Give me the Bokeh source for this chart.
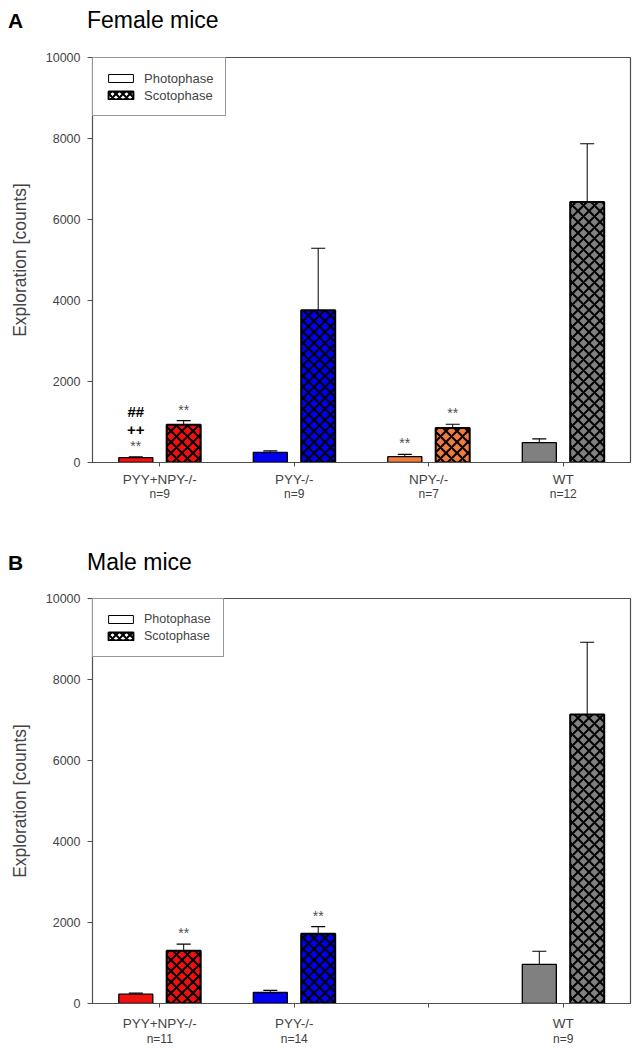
import numpy as np
from bokeh.plotting import figure
from bokeh.models import (ColumnDataSource, Range1d, FixedTicker, Whisker, TeeHead,
                          Legend, LegendItem, LinearAxis, Div)
from bokeh.layouts import column
from bokeh.core.properties import value
from bokeh.embed import file_html
from bokeh.resources import INLINE

FONT = "Liberation Sans"

# ---------------- data ----------------
groups_A = ["PYY+NPY-/-", "PYY-/-", "NPY-/-", "WT"]
n_A = ["n=9", "n=9", "n=7", "n=12"]
colors_A = ["#f01010", "#0000f0", "#f07b3f", "#808080"]
photo_A = [120, 250, 145, 490]
photo_err_A = [20, 35, 55, 95]
scoto_A = [930, 3760, 850, 6430]
scoto_err_A = [105, 1530, 95, 1440]

groups_B = ["PYY+NPY-/-", "PYY-/-", "", "WT"]
n_B = ["n=11", "n=14", "", "n=9"]
colors_B = ["#f01010", "#0000f0", None, "#808080"]
photo_B = [230, 272, np.nan, 965]
photo_err_B = [25, 50, np.nan, 325]
scoto_B = [1305, 1725, np.nan, 7135]
scoto_err_B = [160, 175, np.nan, 1785]

# significance marks: (group index, phase, stack level, text)
marks_A = [(0, "photo", 0, "**"), (0, "photo", 1, "++"), (0, "photo", 2, "##"),
           (0, "scoto", 0, "**"), (2, "photo", 0, "**"), (2, "scoto", 0, "**")]
marks_B = [(0, "scoto", 0, "**"), (1, "scoto", 0, "**")]

y_ticks = [0, 2000, 4000, 6000, 8000, 10000]

OFF = 0.178
BW = 0.253


def title_div(letter, title, height, baseline):
    html = (
        f'<div style="position:relative;width:640px;height:{height}px;">'
        f'<span style="position:absolute;left:8px;top:{baseline - 0.8465 * 21:.1f}px;'
        f'font-family:\'{FONT}\';font-size:21px;font-weight:bold;line-height:1;color:black;">{letter}</span>'
        f'<span style="position:absolute;left:87px;top:{baseline - 0.8465 * 23:.1f}px;'
        f'font-family:\'{FONT}\';font-size:23px;font-weight:normal;line-height:1;color:black;white-space:nowrap;">{title}</span>'
        '</div>')
    return Div(text=html, width=640, height=height, margin=0)


def make_panel(groups, ns, colors, photo, perr, scoto, serr, marks,
               height, top, lab_standoff, n_standoff, legend_font):
    p = figure(width=640, height=height, output_backend="svg", toolbar_location=None,
               x_range=Range1d(-0.5, 3.5), y_range=Range1d(0, 10000),
               min_border_left=92, min_border_right=10, min_border_top=top,
               min_border_bottom=height - top - 405, margin=0)
    p.grid.visible = False
    p.outline_line_color = "#505050"
    p.outline_line_width = 1.2
    p.background_fill_color = "white"
    p.border_fill_color = "white"

    idx = [i for i, v in enumerate(photo) if not np.isnan(v)]
    xs = np.array(idx, dtype=float)
    src = ColumnDataSource(dict(
        xp=xs - OFF, xs=xs + OFF,
        photo=[photo[i] for i in idx], scoto=[scoto[i] for i in idx],
        pu=[photo[i] + perr[i] for i in idx], su=[scoto[i] + serr[i] for i in idx],
        color=[colors[i] for i in idx]))

    p.vbar(x="xp", top="photo", bottom=0, width=BW, source=src, fill_color="color",
           line_color="black", line_width=1.3)
    p.vbar(x="xs", top="scoto", bottom=0, width=BW, source=src, fill_color="color",
           line_color="black", line_width=2, hatch_pattern="x", hatch_color="black",
           hatch_scale=11, hatch_weight=2)

    for xcol, lo, hi in (("xp", "photo", "pu"), ("xs", "scoto", "su")):
        w = Whisker(base=xcol, lower=lo, upper=hi, source=src, line_color="black",
                    line_width=1, lower_head=None,
                    upper_head=TeeHead(size=14, line_color="black", line_width=1.2))
        p.add_layout(w)

    # significance marks
    mx, my, mt, mo, mc, ms, mw = [], [], [], [], [], [], []
    for g, ph, lvl, t in marks:
        if ph == "photo":
            mx.append(g - OFF); my.append(photo[g] + perr[g])
        else:
            mx.append(g + OFF); my.append(scoto[g] + serr[g])
        mt.append(t)
        mo.append([-11, -27, -45][lvl])
        mc.append("#505050" if t == "**" else "black")
        ms.append("14px" if t == "**" else "15px")
        mw.append("normal" if t == "**" else "bold")
    msrc = ColumnDataSource(dict(x=mx, y=my, t=mt, o=mo, c=mc, s=ms, w=mw))
    p.text(x="x", y="y", text="t", y_offset="o", source=msrc, text_align="center",
           text_baseline="alphabetic", text_color="c", text_font_size="s",
           text_font_style="w", text_font=value(FONT))

    # legend swatch renderers (placed outside the visible range)
    lsrc = ColumnDataSource(dict(x=[-5.0], top=[1.0]))
    r1 = p.vbar(x="x", top="top", width=0.2, source=lsrc, fill_color="white",
                line_color="black", line_width=1)
    r2 = p.vbar(x="x", top="top", width=0.2, source=lsrc, fill_color="white",
                line_color="black", line_width=2, hatch_pattern="x", hatch_color="black",
                hatch_scale=7, hatch_weight=2)
    leg = Legend(items=[LegendItem(label="Photophase", renderers=[r1]),
                        LegendItem(label="Scotophase", renderers=[r2])],
                 location="top_left", margin=0, padding=12, spacing=1,
                 glyph_width=31, glyph_height=10, label_height=16, label_standoff=8,
                 label_text_font=FONT, label_text_font_size=legend_font,
                 border_line_color="#303030", border_line_width=1,
                 background_fill_alpha=1, background_fill_color="white")
    p.add_layout(leg)

    # axes
    ya = p.yaxis[0]
    ya.ticker = FixedTicker(ticks=y_ticks)
    ya.axis_label = "Exploration [counts]"
    ya.axis_label_text_font = FONT
    ya.axis_label_text_font_size = "17.5px"
    ya.axis_label_text_font_style = "normal"
    ya.axis_label_standoff = 13
    ya.major_label_text_font = FONT
    ya.major_label_text_font_size = "12.5px"
    ya.major_label_standoff = 7
    ya.major_tick_in = 0
    ya.major_tick_out = 5
    ya.minor_tick_out = 0
    ya.minor_tick_in = 0
    ya.axis_line_color = "#505050"
    ya.major_tick_line_color = "#505050"

    xa = p.xaxis[0]
    xa.ticker = FixedTicker(ticks=[0, 1, 2, 3])
    xa.major_label_overrides = {i: g for i, g in enumerate(groups)}
    xa.major_label_text_font = FONT
    xa.major_label_text_font_size = "13.5px"
    xa.major_label_standoff = lab_standoff
    xa.major_tick_in = 0
    xa.major_tick_out = 4
    xa.minor_tick_out = 0
    xa.minor_tick_in = 0
    xa.axis_line_color = "#505050"
    xa.major_tick_line_color = "#505050"

    xn = LinearAxis(ticker=FixedTicker(ticks=[0, 1, 2, 3]),
                    major_label_overrides={i: s for i, s in enumerate(ns)},
                    major_label_text_font=FONT, major_label_text_font_size="12px",
                    major_label_text_color="#404040", major_label_standoff=n_standoff,
                    axis_line_color=None, major_tick_line_color=None,
                    minor_tick_line_color=None, major_tick_out=0, major_tick_in=0)
    p.add_layout(xn, "below")
    return p


divA = title_div("A", "Female mice", 40, 28)
pA = make_panel(groups_A, n_A, colors_A, photo_A, photo_err_A, scoto_A, scoto_err_A,
                marks_A, height=490, top=17, lab_standoff=5, n_standoff=-3,
                legend_font="13px")
divB = title_div("B", "Male mice", 50, 40)
pB = make_panel(groups_B, n_B, colors_B, photo_B, photo_err_B, scoto_B, scoto_err_B,
                marks_B, height=468, top=18, lab_standoff=8, n_standoff=-2,
                legend_font="12.5px")

layout = column(divA, pA, divB, pB, spacing=0)
open("out.html", "w").write(file_html(layout, INLINE))
